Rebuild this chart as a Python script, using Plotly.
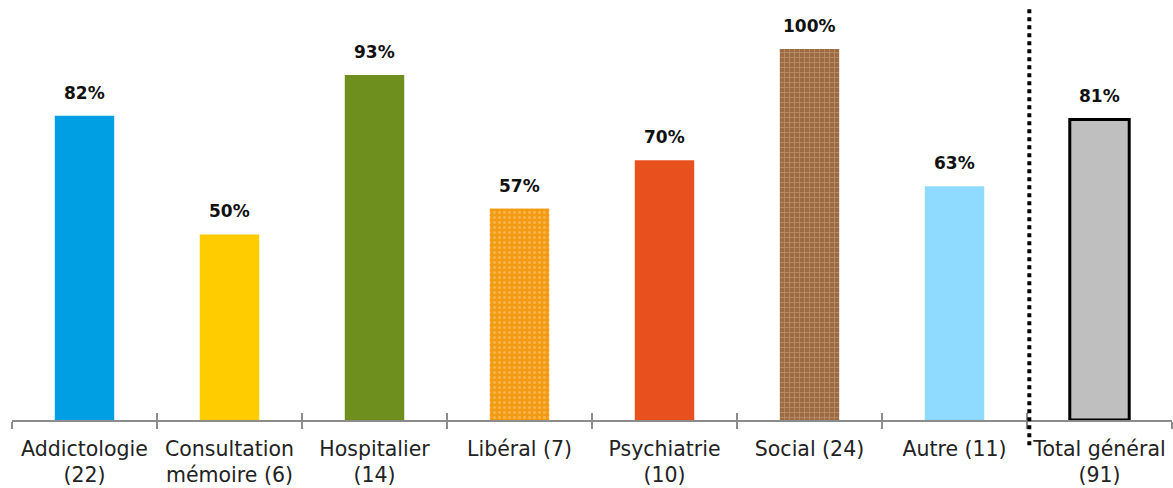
import plotly.graph_objects as go

categories = ["Addictologie<br>(22)", "Consultation<br>mémoire (6)", "Hospitalier<br>(14)", "Libéral (7)",
              "Psychiatrie<br>(10)", "Social (24)", "Autre (11)", "Total général<br>(91)"]
values = [82, 50, 93, 57, 70, 100, 63, 81]
labels = ["82%", "50%", "93%", "57%", "70%", "100%", "63%", "81%"]
colors = ["#009FE3", "#FFCC00", "#6E8E1E", "#F39A12", "#E8501E", "#9C6B44", "#8FDBFF", "#BFBFBF"]
patterns = ["", "", "", ".", "", "+", "", ""]
pattern_fg = ["#FFFFFF", "#FFFFFF", "#FFFFFF", "#FCCB80", "#FFFFFF", "#D8B48E", "#FFFFFF", "#FFFFFF"]
line_widths = [0, 0, 0, 0, 0, 0, 0, 3]

FONT = "DejaVu Sans"

fig = go.Figure()
for c, v, col, pat, fg, lw in zip(categories, values, colors, patterns, pattern_fg, line_widths):
    marker = dict(color=col, line=dict(color="#000000", width=lw))
    if pat:
        marker["pattern"] = dict(shape=pat, fgcolor=fg, bgcolor=col, size=5, solidity=0.3,
                                 fillmode="overlay")
    fig.add_trace(go.Bar(x=[c], y=[v], marker=marker, width=0.41, hoverinfo="skip"))

# invisible trace to carry the second (inside-tick) axis
fig.add_trace(go.Scatter(x=categories, y=values, xaxis="x2", mode="markers",
                         marker=dict(opacity=0), showlegend=False, hoverinfo="skip"))

for c, v, t in zip(categories, values, labels):
    fig.add_annotation(x=c, y=v, text=t, showarrow=False, yanchor="bottom", yshift=11,
                       font=dict(family=FONT, size=17, color="#111111", weight="bold"))

fig.add_shape(type="line", xref="paper", yref="paper", x0=0.877, x1=0.877, y0=-0.06, y1=0.982,
              line=dict(color="#000000", width=4, dash="4px,4px"))

fig.update_layout(
    width=1173, height=488, margin=dict(l=12, r=1, t=0, b=68),
    plot_bgcolor="white", paper_bgcolor="white", showlegend=False, barmode="overlay",
    font=dict(family=FONT, size=20.5, color="#222222"),
    xaxis=dict(showline=True, linecolor="#8C8C8C", linewidth=2, ticks="outside", tickson="boundaries",
               ticklen=7, tickcolor="#8C8C8C", tickwidth=2, showgrid=False, tickangle=0,
               automargin=False, categoryorder="array", categoryarray=categories,
               ticklabelstandoff=9,
               tickfont=dict(family=FONT, size=20.5, color="#222222")),
    xaxis2=dict(overlaying="x", matches="x", anchor="y", side="bottom", ticks="inside",
                tickson="boundaries", ticklen=7, tickcolor="#8C8C8C", tickwidth=2, tickangle=0,
                automargin=False, showticklabels=False, showgrid=False, showline=False),
    yaxis=dict(range=[0, 113.2], visible=False, showgrid=False, automargin=False),
)
fig.write_html("out.html")
